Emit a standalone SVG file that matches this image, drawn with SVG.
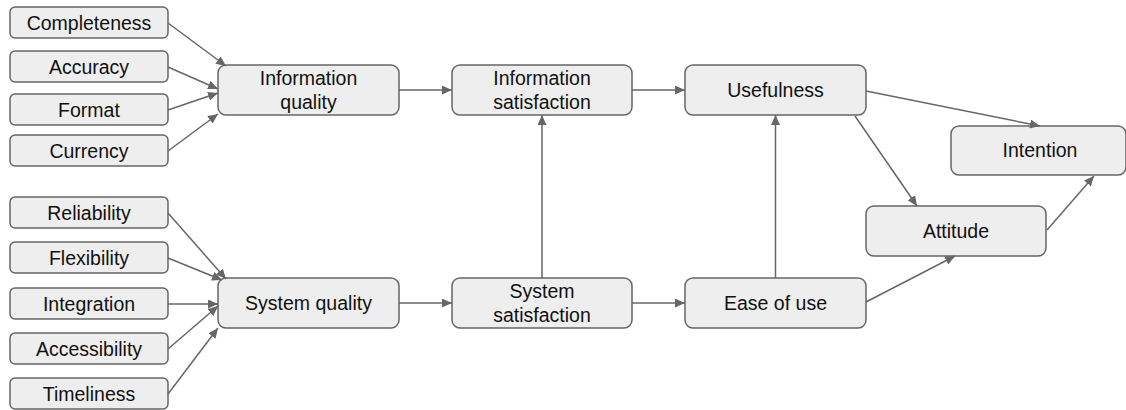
<svg xmlns="http://www.w3.org/2000/svg" width="1126" height="410" viewBox="0 0 1126 410">
  <style>
    .box { fill: #eeeeee; stroke: #666666; stroke-width: 1.5; }
    .lbl { font-family: "Liberation Sans", Arial, sans-serif; font-size: 19.5px; fill: #111111; text-anchor: middle; dominant-baseline: central; }
    .edge { stroke: #666666; stroke-width: 1.5; fill: none; marker-end: url(#arrow); }
  </style>
  <defs>
    <marker id="arrow" viewBox="0 0 10 10" refX="10" refY="5" markerWidth="10" markerHeight="9" markerUnits="userSpaceOnUse" orient="auto" preserveAspectRatio="none">
      <path d="M0,0 L10,5 L0,10 z" fill="#666666"/>
    </marker>
  </defs>
  <rect width="1126" height="410" fill="#ffffff"/>

  <!-- information quality factors -->
  <g id="completeness"><rect class="box" x="10" y="7" width="158" height="31" rx="5"/><text class="lbl" x="89" y="23">Completeness</text></g>
  <g id="accuracy"><rect class="box" x="10" y="51" width="158" height="31" rx="5"/><text class="lbl" x="89" y="67">Accuracy</text></g>
  <g id="format"><rect class="box" x="10" y="94" width="158" height="31" rx="5"/><text class="lbl" x="89" y="110">Format</text></g>
  <g id="currency"><rect class="box" x="10" y="135" width="158" height="31" rx="5"/><text class="lbl" x="89" y="151">Currency</text></g>

  <!-- system quality factors -->
  <g id="reliability"><rect class="box" x="10" y="197" width="158" height="31" rx="5"/><text class="lbl" x="89" y="213">Reliability</text></g>
  <g id="flexibility"><rect class="box" x="10" y="242" width="158" height="31" rx="5"/><text class="lbl" x="89" y="258">Flexibility</text></g>
  <g id="integration"><rect class="box" x="10" y="288" width="158" height="31" rx="5"/><text class="lbl" x="89" y="304">Integration</text></g>
  <g id="accessibility"><rect class="box" x="10" y="333" width="158" height="31" rx="5"/><text class="lbl" x="89" y="349">Accessibility</text></g>
  <g id="timeliness"><rect class="box" x="10" y="378" width="158" height="31" rx="5"/><text class="lbl" x="89" y="394">Timeliness</text></g>

  <!-- main constructs -->
  <g id="information-quality"><rect class="box" x="218" y="65" width="181" height="50" rx="8"/><text class="lbl" x="308.5" y="78">Information</text><text class="lbl" x="308.5" y="102">quality</text></g>
  <g id="system-quality"><rect class="box" x="218" y="278" width="181" height="50" rx="8"/><text class="lbl" x="308.5" y="303">System quality</text></g>
  <g id="information-satisfaction"><rect class="box" x="452" y="65" width="180" height="50" rx="8"/><text class="lbl" x="542" y="78">Information</text><text class="lbl" x="542" y="102">satisfaction</text></g>
  <g id="system-satisfaction"><rect class="box" x="452" y="278" width="180" height="50" rx="8"/><text class="lbl" x="542" y="291">System</text><text class="lbl" x="542" y="315">satisfaction</text></g>
  <g id="usefulness"><rect class="box" x="685" y="65" width="181" height="50" rx="8"/><text class="lbl" x="775.5" y="90">Usefulness</text></g>
  <g id="ease-of-use"><rect class="box" x="685" y="278" width="181" height="50" rx="8"/><text class="lbl" x="775.5" y="303">Ease of use</text></g>
  <g id="intention"><rect class="box" x="951" y="126" width="175" height="49" rx="8"/><text class="lbl" x="1040" y="150">Intention</text></g>
  <g id="attitude"><rect class="box" x="866" y="206" width="180" height="50" rx="8"/><text class="lbl" x="956" y="231">Attitude</text></g>

  <!-- connectors -->
  <g id="connectors">
    <line class="edge" x1="168" y1="23" x2="226" y2="66"/>
    <line class="edge" x1="168" y1="67" x2="218" y2="89"/>
    <line class="edge" x1="168" y1="110" x2="218" y2="93"/>
    <line class="edge" x1="168" y1="151" x2="218" y2="114"/>

    <line class="edge" x1="168" y1="213" x2="226" y2="279"/>
    <line class="edge" x1="168" y1="258" x2="222" y2="280"/>
    <line class="edge" x1="168" y1="304" x2="218" y2="304"/>
    <line class="edge" x1="168" y1="349" x2="218" y2="306"/>
    <line class="edge" x1="168" y1="394" x2="218" y2="328"/>

    <line class="edge" x1="399" y1="90" x2="452" y2="90"/>
    <line class="edge" x1="399" y1="303" x2="452" y2="303"/>
    <line class="edge" x1="542" y1="278" x2="542" y2="115"/>
    <line class="edge" x1="632" y1="90" x2="685" y2="90"/>
    <line class="edge" x1="632" y1="303" x2="685" y2="303"/>
    <line class="edge" x1="775.5" y1="278" x2="775.5" y2="115"/>

    <line class="edge" x1="866" y1="91" x2="1040" y2="126"/>
    <line class="edge" x1="855" y1="116" x2="917" y2="206"/>
    <line class="edge" x1="866" y1="302" x2="955" y2="256"/>
    <line class="edge" x1="1047" y1="230" x2="1094" y2="176"/>
  </g>
</svg>
